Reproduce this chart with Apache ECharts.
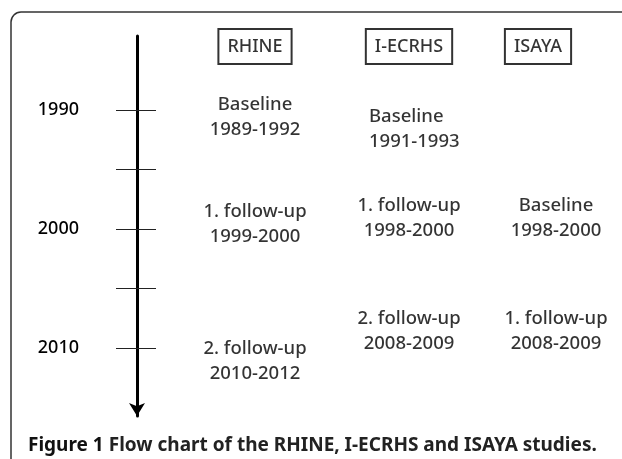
<!DOCTYPE html>
<html>
<head>
<meta charset="utf-8">
<script src="https://cdn.jsdelivr.net/npm/echarts@6/dist/echarts.min.js"></script>
<style>
  html, body { margin: 0; padding: 0; background: #fff; }
  #chart { width: 622px; height: 459px; }
</style>
</head>
<body>
<div id="chart"></div>
<script>
// timeline
const tickYears = [1990, 1995, 2000, 2005, 2010]
const labelYears = [1990, 2000, 2010]

// studies and their waves (period = from-to)
const studies = ['RHINE', 'I-ECRHS', 'ISAYA']
const rhineWaves = ['Baseline', '1. follow-up', '2. follow-up']
const rhineFrom = [1989, 1999, 2010]
const rhineTo = [1992, 2000, 2012]
const iecrhsWaves = ['Baseline', '1. follow-up', '2. follow-up']
const iecrhsFrom = [1991, 1998, 2008]
const iecrhsTo = [1993, 2000, 2009]
const isayaWaves = ['Baseline', '1. follow-up']
const isayaFrom = [1998, 2008]
const isayaTo = [2000, 2009]

const caption = 'Flow chart of the RHINE, I-ECRHS and ISAYA studies.'

// layout
const YMIN = 1983.8
const YMAX = 2015.7
const FONT = '"Noto Sans", "Open Sans", sans-serif'
const INK = '#000'
const colNudge = [0, 9, 11]      // small shifts of the wave text per column
const headNudge = [0, 9, -7]     // small shifts of the header boxes

const chart = echarts.init(document.getElementById('chart'))

const waveSets = [
  [rhineWaves, rhineFrom, rhineTo],
  [iecrhsWaves, iecrhsFrom, iecrhsTo],
  [isayaWaves, isayaFrom, isayaTo]
]

const waveData = []
waveSets.forEach(([names, from, to], s) => {
  names.forEach((name, i) => {
    const item = {
      value: [studies[s], (from[i] + to[i]) / 2],
      name: name + '\n' + from[i] + '-' + to[i],
      label: { offset: [colNudge[s], 1] }
    }
    // I-ECRHS baseline is written flush left in the original
    if (s === 1 && i === 0) {
      item.label = { align: 'left', offset: [-31, -4] }
    }
    waveData.push(item)
  })
})

const headerData = studies.map((st, s) => ({
  value: [st, YMIN],
  name: st,
  label: { offset: [headNudge[s], 10.5] }
}))

const option = {
  backgroundColor: '#fff',
  animation: false,
  title: {
    left: 28,
    top: 436,
    padding: 0,
    text: '{a|Figure 1} {b|' + caption + '}',
    textStyle: {
      rich: {
        a: { fontFamily: FONT, fontSize: 19, fontWeight: 'bold', color: '#111' },
        b: { fontFamily: FONT, fontSize: 19, fontWeight: 'bold', color: '#222' }
      }
    }
  },
  graphic: [
    {
      type: 'rect',
      z: -1,
      shape: { x: 11, y: 12, width: 700, height: 500, r: 10 },
      style: { fill: 'none', stroke: '#333', lineWidth: 1.5 }
    }
  ],
  grid: [
    { left: 137, top: 36, width: 1, bottom: 43 },
    { left: 182.5, right: 4.5, top: 36, bottom: 43 }
  ],
  xAxis: [
    { gridIndex: 0, type: 'value', show: false },
    { gridIndex: 1, type: 'category', data: studies, show: false }
  ],
  yAxis: [
    {
      gridIndex: 0,
      type: 'value',
      position: 'left',
      inverse: true,
      min: YMIN,
      max: YMAX,
      splitLine: { show: false },
      axisLine: {
        show: true,
        symbol: ['arrow', 'none'],
        symbolSize: [12, 13],
        lineStyle: { color: '#000', width: 3 }
      },
      axisTick: {
        show: true,
        customValues: tickYears,
        length: 21,
        lineStyle: { color: '#222', width: 1 }
      },
      axisLabel: {
        customValues: labelYears,
        formatter: v => String(v),
        margin: 58,
        fontFamily: FONT,
        fontSize: 18,
        fontWeight: 500,
        color: INK
      }
    },
    {
      gridIndex: 0,
      type: 'value',
      position: 'left',
      inverse: true,
      min: YMIN,
      max: YMAX,
      splitLine: { show: false },
      axisLine: { show: false },
      axisTick: {
        show: true,
        inside: true,
        customValues: tickYears,
        length: 19,
        lineStyle: { color: '#222', width: 1 }
      },
      axisLabel: { show: false }
    },
    {
      gridIndex: 1,
      type: 'value',
      inverse: true,
      min: YMIN,
      max: YMAX,
      show: false
    }
  ],
  series: [
    {
      name: 'waves',
      type: 'scatter',
      xAxisIndex: 1,
      yAxisIndex: 2,
      symbolSize: 0,
      data: waveData,
      label: {
        show: true,
        position: 'inside',
        formatter: p => p.name,
        fontFamily: FONT,
        fontSize: 18.5,
        fontWeight: 500,
        lineHeight: 25,
        color: INK
      }
    },
    {
      name: 'headers',
      type: 'scatter',
      xAxisIndex: 1,
      yAxisIndex: 2,
      symbolSize: 0,
      data: headerData,
      label: {
        show: true,
        position: 'inside',
        formatter: p => p.name,
        fontFamily: FONT,
        fontSize: 18,
        fontWeight: 500,
        color: INK,
        borderColor: '#000',
        borderWidth: 2,
        padding: [9, 9, 8, 9]
      }
    }
  ]
}

chart.setOption(option)
window.addEventListener('resize', () => chart.resize())
</script>
</body>
</html>
